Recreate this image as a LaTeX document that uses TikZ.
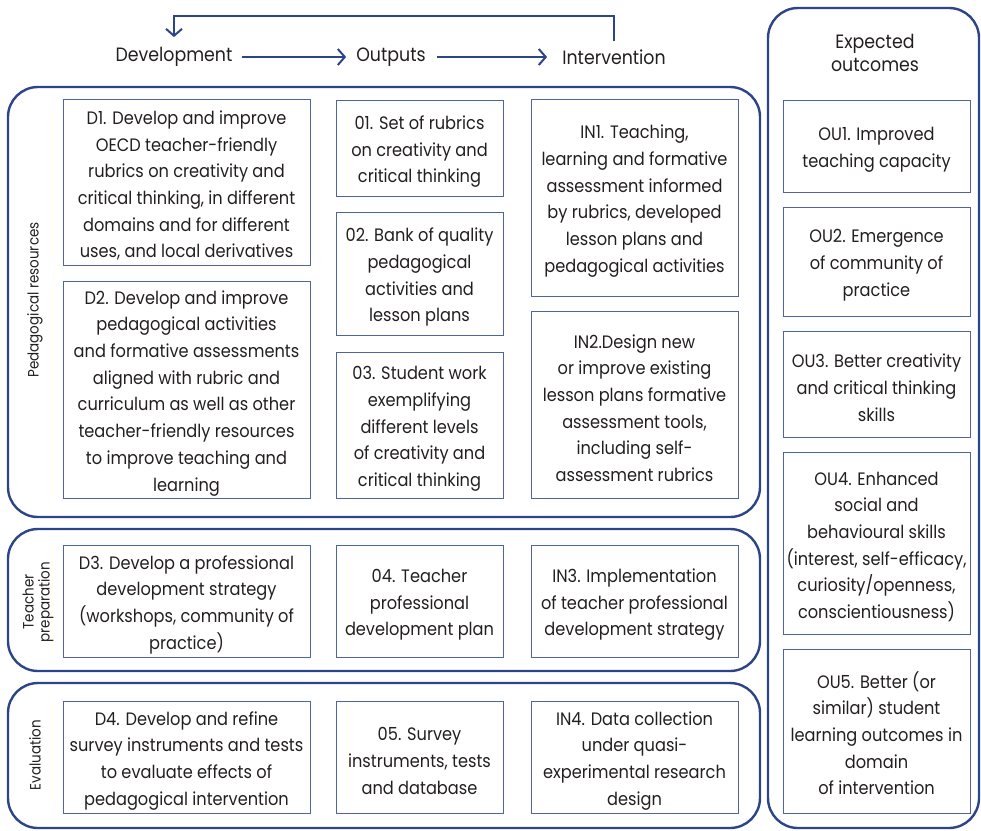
\documentclass[tikz,border=0pt]{standalone}
\usepackage{fontspec}
\setmainfont{Poppins}[FakeStretch=0.9]
\usetikzlibrary{arrows.meta}
\definecolor{dblue}{HTML}{2C4488}
\definecolor{lblue}{HTML}{4F64A0}
\definecolor{txt}{HTML}{231F20}
\newcommand\bodyfs{\fontsize{18}{26.7}\selectfont}
\newcommand\sidefs{\fontsize{15}{16}\selectfont}
\newcommand\headfs{\fontsize{19.3}{23}\selectfont}
\newcommand\tp{\rule{0pt}{21pt}}
\begin{document}
\begin{tikzpicture}[x=1pt,y=-1pt,
  outer/.style={draw=dblue, line width=2.4pt, rounded corners=30pt, inner sep=0pt},
  ibox/.style={draw=lblue, line width=1pt, align=center, inner sep=0pt, text=txt, font=\bodyfs},
  side/.style={rotate=90, align=center, text=txt, font=\sidefs, inner sep=0pt},
  head/.style={text=txt, font=\headfs, inner sep=0pt, align=center},
  arr/.style={draw=dblue, line width=2pt, -{Straight Barb[length=7pt,width=16pt]}}]
\useasboundingbox (0,0) rectangle (981,830);
% outer containers
\node[outer, minimum width=752pt, minimum height=430pt] (ped) at (384,302) {};
\node[outer, minimum width=752pt, minimum height=142pt] (tea) at (384,600) {};
\node[outer, minimum width=752pt, minimum height=145pt] (eva) at (384,755.5) {};
\node[outer, minimum width=211pt, minimum height=820pt] (exp) at (873.5,418) {};
% side labels
\node[side] (lped) at (35,300) {Pedagogical resources};
\node[side] (ltea) at (38,602) {Teacher\\preparation};
\node[side] (leva) at (35,755) {Evaluation};
% header
\node[head] (dev) at (174,57) {Development};
\node[head] (out) at (391,57) {Outputs};
\node[head] (int) at (614,57) {Intervention};
\node[head] (expt) at (875,53) {Expected\\outcomes};
\draw[arr, shorten <=9pt, shorten >=10pt] (dev) -- (out);
\draw[arr, shorten <=11pt, shorten >=15pt] (out) -- (int);
\coordinate (lt) at (174,16);
\draw[arr] ([yshift=8pt]int.north) |- (lt) -- ([yshift=10pt]dev.north);
% pedagogical resources
\node[ibox, minimum width=247pt, minimum height=166pt] (d1) at (186.5,182) {\tp D1. Develop and improve\\OECD teacher-friendly\\rubrics on creativity and\\critical thinking, in different\\domains and for different\\uses, and local derivatives};
\node[ibox, minimum width=247pt, minimum height=217pt] (d2) at (186.5,389.5) {\tp D2. Develop and improve\\pedagogical activities\\and formative assessments\\aligned with rubric and\\curriculum as well as other\\teacher-friendly resources\\to improve teaching and\\learning};
\node[ibox, minimum width=167pt, minimum height=96pt] (o1) at (419.5,148) {\tp 01. Set of rubrics\\on creativity and\\critical thinking};
\node[ibox, minimum width=167pt, minimum height=123pt] (o2) at (419.5,273.5) {\tp 02. Bank of quality\\pedagogical\\activities and\\lesson plans};
\node[ibox, minimum width=167pt, minimum height=146pt] (o3) at (419.5,425) {\tp 03. Student work\\exemplifying\\different levels\\of creativity and\\critical thinking};
\node[ibox, minimum width=207pt, minimum height=197pt] (in1) at (634.5,197.5) {\tp IN1. Teaching,\\learning and formative\\assessment informed\\by rubrics, developed\\lesson plans and\\pedagogical activities};
\node[ibox, minimum width=207pt, minimum height=187pt] (in2) at (634.5,404.5) {\tp IN2.Design new\\or improve existing\\lesson plans formative\\assessment tools,\\including self-\\assessment rubrics};
% teacher preparation
\node[ibox, minimum width=247pt, minimum height=112pt] (d3) at (186.5,601) {\tp D3. Develop a professional\\development strategy\\(workshops, community of\\practice)};
\node[ibox, minimum width=167pt, minimum height=112pt] (o4) at (419.5,601) {\tp 04. Teacher\\professional\\development plan};
\node[ibox, minimum width=207pt, minimum height=112pt] (in3) at (634.5,601) {\tp IN3. Implementation\\of teacher professional\\development strategy};
% evaluation
\node[ibox, minimum width=247pt, minimum height=112pt] (d4) at (186.5,757) {\tp D4. Develop and refine\\survey instruments and tests\\to evaluate effects of\\pedagogical intervention};
\node[ibox, minimum width=167pt, minimum height=112pt] (o5) at (419.5,757) {\tp 05. Survey\\instruments, tests\\and database};
\node[ibox, minimum width=207pt, minimum height=112pt] (in4) at (634.5,757) {\tp IN4. Data collection\\under quasi-\\experimental research\\design};
% outcomes
\node[ibox, minimum width=187pt, minimum height=92pt] (ou1) at (876.5,146) {\tp OU1. Improved\\teaching capacity};
\node[ibox, minimum width=187pt, minimum height=109pt] (ou2) at (876.5,261.5) {\tp OU2. Emergence\\of community of\\practice};
\node[ibox, minimum width=187pt, minimum height=106pt] (ou3) at (876.5,384) {\tp OU3. Better creativity\\and critical thinking\\skills};
\node[ibox, minimum width=187pt, minimum height=182pt] (ou4) at (876.5,543) {\tp OU4. Enhanced\\social and\\behavioural skills\\(interest, self-efficacy,\\curiosity/openness,\\conscientiousness)};
\node[ibox, minimum width=187pt, minimum height=164pt] (ou5) at (876.5,731) {\tp OU5. Better (or\\similar) student\\learning outcomes in\\domain\\of intervention};
\end{tikzpicture}
\end{document}
